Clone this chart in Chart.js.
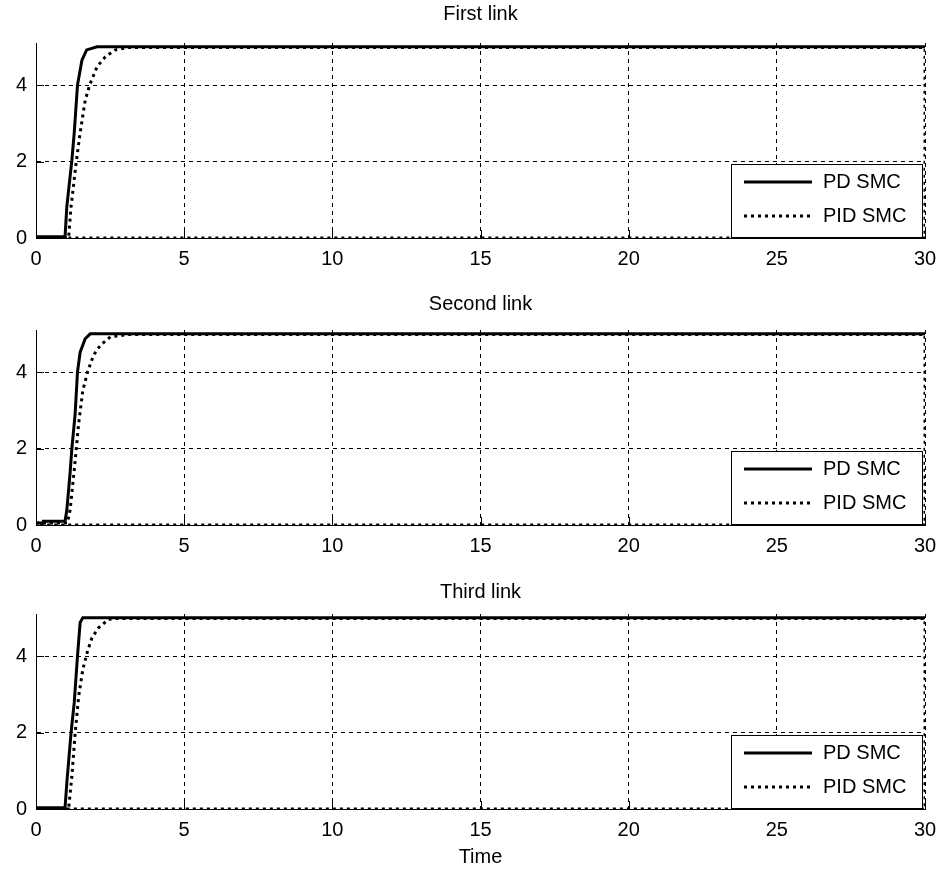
<!DOCTYPE html>
<html>
<head>
<meta charset="utf-8">
<script src="https://cdn.jsdelivr.net/npm/chart.js@4.4.0/dist/chart.umd.min.js"></script>
<style>
  body { margin: 0; background: #fff; }
  .box { position: absolute; left: 0; width: 942px; }
</style>
</head>
<body>
<div class="box" style="top:0;height:278px"><canvas id="c1"></canvas></div>
<div class="box" style="top:287px;height:278px"><canvas id="c2"></canvas></div>
<div class="box" style="top:571px;height:302px"><canvas id="c3"></canvas></div>
<script>
// tick labels
var xTicks = [0, 5, 10, 15, 20, 25, 30];
var yTicks = [0, 2, 4];
var titles = ['First link', 'Second link', 'Third link'];
var labels = ['PD SMC', 'PID SMC'];

// first link
var pd1T = [0, 0.98, 1.04, 1.21, 1.29, 1.40, 1.55, 1.71, 2.06, 30];
var pd1Y = [0.03, 0.03, 0.82, 2.03, 2.75, 4.0, 4.65, 4.92, 5.0, 5.0];
var pid1T = [0, 1.1, 1.18, 1.36, 1.49, 1.66, 1.81, 2.06, 2.34, 2.68, 3.08, 30, 30, 0];
var pid1Y = [0, 0, 0.8, 2.0, 2.75, 3.6, 4.0, 4.48, 4.74, 4.92, 4.98, 4.98, 0, 0];

// second link
var pd2T = [0, 0.24, 0.25, 0.98, 1.04, 1.15, 1.21, 1.32, 1.40, 1.49, 1.66, 1.83, 30];
var pd2Y = [0.05, 0.05, 0.1, 0.1, 0.39, 1.36, 2.0, 2.9, 4.0, 4.52, 4.87, 5.0, 5.0];
var pid2T = [0, 1.06, 1.15, 1.29, 1.36, 1.44, 1.58, 1.74, 1.94, 2.17, 2.51, 3.08, 30, 30, 0];
var pid2Y = [0.05, 0.05, 0.39, 1.43, 2.0, 2.66, 3.52, 4.0, 4.44, 4.7, 4.92, 4.98, 4.98, 0, 0];

// third link
var pd3T = [0, 0.98, 1.04, 1.18, 1.29, 1.40, 1.49, 1.58, 30];
var pd3Y = [0.03, 0.03, 0.68, 1.97, 2.78, 4.0, 4.88, 5.0, 5.0];
var pid3T = [0, 1.1, 1.21, 1.32, 1.44, 1.58, 1.74, 1.89, 2.11, 2.45, 2.68, 30, 30, 0];
var pid3Y = [0, 0, 0.85, 1.97, 2.95, 3.65, 4.13, 4.48, 4.74, 4.96, 4.98, 4.98, 0, 0];

var FONT = '"Liberation Sans", Arial, sans-serif';

function pts(t, y) {
  return t.map(function (v, i) { return { x: v, y: y[i] }; });
}

// matlab style inner ticks + boxed legend
var extras = {
  id: 'extras',
  afterDatasetsDraw: function (chart) {
    var ctx = chart.ctx, a = chart.chartArea;
    var sx = chart.scales.x, sy = chart.scales.y;
    ctx.save();
    ctx.strokeStyle = '#000';
    ctx.lineWidth = 1;
    ctx.beginPath();
    sx.ticks.forEach(function (t) {
      var px = Math.round(sx.getPixelForValue(t.value)) + 0.5;
      ctx.moveTo(px, a.bottom);
      ctx.lineTo(px, a.bottom - 8);
    });
    sy.ticks.forEach(function (t) {
      var py = Math.round(sy.getPixelForValue(t.value)) + 0.5;
      ctx.moveTo(a.left, py);
      ctx.lineTo(a.left + 8, py);
    });
    ctx.stroke();

    var w = 192, h = 74;
    var x0 = Math.round(a.right) - 2 - w, y0 = Math.round(a.bottom) - h;
    ctx.fillStyle = '#fff';
    ctx.fillRect(x0, y0, w, h);
    ctx.strokeRect(x0 + 0.5, y0 + 0.5, w - 1, h - 1);
    chart.data.datasets.forEach(function (ds, i) {
      var yy = y0 + 18 + i * 34;
      ctx.lineWidth = ds.borderWidth;
      ctx.setLineDash(ds.borderDash || []);
      ctx.beginPath();
      ctx.moveTo(x0 + 13, yy);
      ctx.lineTo(x0 + 81, yy);
      ctx.stroke();
      ctx.setLineDash([]);
      ctx.fillStyle = '#000';
      ctx.font = '20px ' + FONT;
      ctx.textBaseline = 'middle';
      ctx.fillText(ds.label, x0 + 92, yy);
    });
    ctx.restore();
  }
};

function makeChart(id, title, pdT, pdY, pidT, pidY, last, titleTop) {
  var ctx = document.getElementById(id).getContext('2d');
  return new Chart(ctx, {
    type: 'scatter',
    data: {
      datasets: [{
        label: labels[0],
        data: pts(pdT, pdY),
        showLine: true,
        borderColor: '#000',
        borderWidth: 3,
        pointRadius: 0,
        tension: 0
      }, {
        label: labels[1],
        data: pts(pidT, pidY),
        showLine: true,
        borderColor: '#000',
        borderWidth: 3,
        borderDash: [3, 4],
        pointRadius: 0,
        tension: 0
      }]
    },
    options: {
      responsive: true,
      maintainAspectRatio: false,
      animation: false,
      devicePixelRatio: 1,
      layout: { padding: { top: titleTop, right: 17, left: 0, bottom: 0 } },
      plugins: {
        legend: { display: false },
        tooltip: { enabled: false },
        title: {
          display: true,
          fullSize: false,
          text: title,
          color: '#000',
          font: { family: FONT, size: 20, weight: 'normal' },
          padding: { top: 0, bottom: 19 - titleTop }
        }
      },
      scales: {
        x: {
          type: 'linear',
          min: 0,
          max: 30,
          afterBuildTicks: function (s) { s.ticks = xTicks.map(function (v) { return { value: v }; }); },
          afterFit: function (s) {
            s.height = last ? 64 : 40;
            s.paddingLeft = 0;
            s.paddingRight = 0;
          },
          grid: { color: '#000', lineWidth: 1, drawTicks: false },
          border: { display: true, color: '#000', width: 1, dash: [4, 4] },
          ticks: { color: '#000', padding: 9, maxRotation: 0, font: { family: FONT, size: 20 } },
          title: {
            display: last,
            text: 'Time',
            color: '#000',
            font: { family: FONT, size: 20 },
            padding: { top: 0, bottom: 4 }
          }
        },
        y: {
          min: 0,
          max: 5.1,
          afterBuildTicks: function (s) { s.ticks = yTicks.map(function (v) { return { value: v }; }); },
          afterFit: function (s) { s.width = 36; },
          grid: { color: '#000', lineWidth: 1, drawTicks: false },
          border: { display: true, color: '#000', width: 1, dash: [4, 4] },
          ticks: { color: '#000', padding: 9, font: { family: FONT, size: 20 } }
        }
      }
    },
    plugins: [extras]
  });
}

makeChart('c1', titles[0], pd1T, pd1Y, pid1T, pid1Y, false, 2);
makeChart('c2', titles[1], pd2T, pd2Y, pid2T, pid2Y, false, 5);
makeChart('c3', titles[2], pd3T, pd3Y, pid3T, pid3Y, true, 9);
</script>
</body>
</html>
